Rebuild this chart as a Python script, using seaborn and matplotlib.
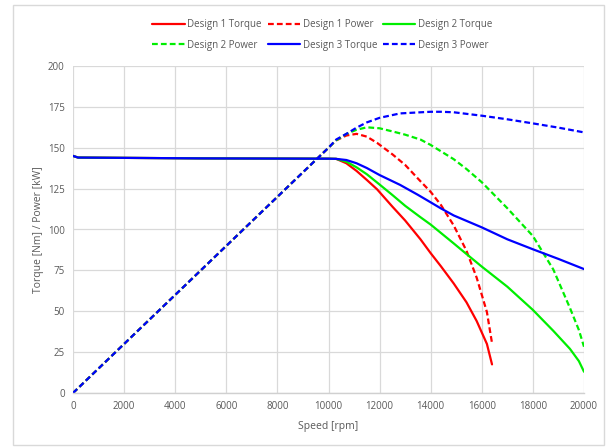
import matplotlib
matplotlib.use("Agg")
import matplotlib.pyplot as plt
import seaborn as sns
import pandas as pd
from matplotlib.patches import Rectangle

# ---- data ----
speed1 = [0, 200, 5000, 10000, 10300, 10700, 11100, 11500, 11900, 12500, 13000, 13600,
          14000, 14400, 14900, 15400, 15800, 16200, 16400]
torque1 = [145, 144, 143.5, 143.3, 143.2, 140.5, 135.8, 130.3, 124.6, 114, 105.5, 94,
           85.5, 77.5, 67, 55.5, 44, 30, 17.5]
power1 = [0, 3, 75, 150, 154.5, 157.5, 158.5, 156.8, 153, 146, 139.5, 129.5,
          123, 115, 102.5, 87, 70.5, 49.5, 30.5]

speed2 = [0, 200, 5000, 10000, 10300, 10700, 11100, 11500, 12000, 12500, 13000, 13600,
          14000, 14900, 15400, 16000, 17000, 18000, 18800, 19450, 19800, 20000]
torque2 = [145, 144, 143.5, 143.3, 143.2, 141.5, 138, 133.8, 127.5, 121.1, 114.5, 107.5,
           103, 91.5, 85, 77.3, 65, 50.8, 38, 27, 19.5, 13]
power2 = [0, 3, 75, 150, 154.5, 158.5, 161, 162.5, 161.9, 160, 158, 155,
          151.7, 143, 137, 128.9, 113, 96, 75.5, 52, 38.5, 28.3]

speed3 = [0, 200, 5000, 10000, 10300, 10700, 11100, 11500, 12000, 12800, 13500, 14000,
          14400, 14900, 16000, 17000, 18000, 19000, 20000]
torque3 = [145, 144, 143.5, 143.3, 143.2, 142.5, 140.5, 137.6, 133.3, 127.3, 121.2, 116.6,
           112.9, 108.6, 101.3, 94, 87.9, 82, 75.8]
power3 = [0, 3, 75, 150, 155, 158.5, 162.3, 165.5, 168.3, 171, 171.6, 172,
          172, 171.7, 169.6, 167.4, 164.9, 162.3, 159.4]

x_ticks = [0, 2000, 4000, 6000, 8000, 10000, 12000, 14000, 16000, 18000, 20000]
y_ticks = [0, 25, 50, 75, 100, 125, 150, 175, 200]

series = [
    ("Design 1 Torque", speed1, torque1, "#ff0000", "-"),
    ("Design 1 Power", speed1, power1, "#ff0000", "--"),
    ("Design 2 Torque", speed2, torque2, "#00ee00", "-"),
    ("Design 2 Power", speed2, power2, "#00ee00", "--"),
    ("Design 3 Torque", speed3, torque3, "#0000ff", "-"),
    ("Design 3 Power", speed3, power3, "#0000ff", "--"),
]

sns.set_theme(style="white")
plt.rcParams["font.family"] = ["Open Sans", "DejaVu Sans"]

fig = plt.figure(figsize=(6.14, 4.48), dpi=100)
ax = fig.add_axes([73/614, 1-393/448, (584-73)/614, (393-66)/448])

handles = {}
for name, xs, ys, col, ls in series:
    df = pd.DataFrame({"x": xs, "y": ys})
    sns.lineplot(data=df, x="x", y="y", ax=ax, color=col, linewidth=1.6,
                 linestyle=ls, label=name, sort=False)
    line = ax.get_lines()[-1]
    line.set_solid_joinstyle("round")
    line.set_dash_joinstyle("round")
    if ls == "--":
        line.set_dashes((2.6, 1.4))
    handles[name] = line

ax.set_xlim(0, 20000)
ax.set_ylim(0, 200)
ax.set_xticks(x_ticks)
ax.set_yticks(y_ticks)
ax.grid(True, color="#d9d9d9", linewidth=0.9)
ax.set_axisbelow(True)
for s in ["top", "right", "left"]:
    ax.spines[s].set_visible(False)
ax.spines["bottom"].set_color("#d0d0d0")
ax.spines["bottom"].set_linewidth(1.0)
ax.tick_params(axis="both", length=0, labelsize=7, colors="#595959", pad=6)
ax.set_xlabel("Speed [rpm]", fontsize=7.5, color="#595959", labelpad=6)
ax.set_ylabel("Torque [Nm] / Power [kW]", fontsize=7.5, color="#595959", labelpad=3)

order = ["Design 1 Torque", "Design 2 Power", "Design 1 Power",
         "Design 3 Torque", "Design 2 Torque", "Design 3 Power"]
leg = ax.legend([handles[n] for n in order], order, ncol=3, frameon=False,
                loc="center", bbox_to_anchor=(0.5 - 6/511, 1 + 31/327),
                fontsize=7, handlelength=3.3, handletextpad=0.3,
                columnspacing=0.6, labelspacing=1.0)
for t in leg.get_texts():
    t.set_color("#595959")

fig.patches.append(Rectangle((13/614, 1-445/448), (604-13)/614, (445-5)/448,
                             transform=fig.transFigure, fill=False,
                             edgecolor="#d9d9d9", linewidth=1.0))

fig.savefig("out.png", dpi=100, facecolor="white")
